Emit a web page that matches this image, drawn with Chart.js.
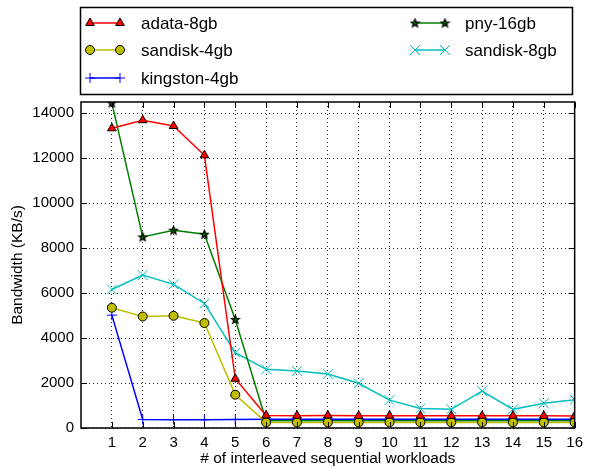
<!DOCTYPE html>
<html>
<head>
<meta charset="utf-8">
<script src="https://cdn.jsdelivr.net/npm/chart.js@4/dist/chart.umd.min.js"></script>
<style>
  html, body { margin: 0; padding: 0; background: #fff; }
  #wrap { position: relative; width: 589px; height: 468px; }
</style>
</head>
<body>
<div id="wrap"><canvas id="bw"></canvas></div>
<script>
// workloads on the x axis
const workloads = [1, 2, 3, 4, 5, 6, 7, 8, 9, 10, 11, 12, 13, 14, 15, 16];
const yTicks = [0, 2000, 4000, 6000, 8000, 10000, 12000, 14000];

// bandwidth in KB/s
const adata8 = [13330, 13690, 13430, 12130, 2190, 560, 550, 560, 540, 550, 540, 540, 540, 540, 540, 530];
const sandisk4 = [5350, 4960, 4990, 4670, 1480, 250, 250, 250, 250, 250, 250, 250, 250, 250, 250, 250];
const kingston4 = [5020, 380, 370, 370, 380, 390, 390, 390, 390, 390, 390, 390, 390, 390, 390, 390];
const pny16 = [14460, 8500, 8800, 8620, 4830, 320, 320, 320, 320, 320, 320, 320, 320, 320, 320, 320];
const sandisk8 = [6160, 6800, 6390, 5540, 3350, 2610, 2530, 2400, 1990, 1240, 870, 830, 1640, 830, 1100, 1260];

const FONT = '"Liberation Sans", Arial, Helvetica, sans-serif';

// filled star marker (Chart.js 'star' is an asterisk)
function makeStar(fill) {
    const c = document.createElement('canvas');
    c.width = 11; c.height = 11;
    const g = c.getContext('2d');
    g.beginPath();
    for (let i = 0; i < 10; i++) {
        const r = i % 2 === 0 ? 4.3 : 1.9;
        const a = -Math.PI / 2 + i * Math.PI / 5;
        const px = 5.5 + r * Math.cos(a), py = 5.8 + r * Math.sin(a);
        if (i === 0) g.moveTo(px, py); else g.lineTo(px, py);
    }
    g.closePath();
    g.fillStyle = fill;
    g.fill();
    g.lineWidth = 1.2;
    g.strokeStyle = '#000';
    g.stroke();
    return c;
}
const starImg = makeStar('#005a00');

const pts = arr => arr.map((v, i) => ({ x: workloads[i], y: v }));

const series = [
    { label: 'adata-8gb', data: adata8, color: '#ff0000', style: 'triangle', fill: '#ff0000', edge: '#000', r: 5 },
    { label: 'sandisk-4gb', data: sandisk4, color: '#bfbf00', style: 'circle', fill: '#bfbf00', edge: '#000', r: 4.5 },
    { label: 'kingston-4gb', data: kingston4, color: '#0000ff', style: 'cross', fill: '#0000ff', edge: '#0000ff', r: 5 },
    { label: 'pny-16gb', data: pny16, color: '#008000', style: starImg, fill: '#008000', edge: '#000', r: 5 },
    { label: 'sandisk-8gb', data: sandisk8, color: '#00bfbf', style: 'crossRot', fill: '#00bfbf', edge: '#00bfbf', r: 7 }
];

const frame = {
    id: 'frame',
    afterDraw(chart) {
        const { ctx, chartArea: a, scales } = chart;
        ctx.save();
        ctx.strokeStyle = '#000';
        ctx.lineWidth = 1;
        // inward ticks
        ctx.beginPath();
        workloads.forEach(v => {
            const x = Math.round(scales.x.getPixelForValue(v)) + 0.5;
            ctx.moveTo(x, a.bottom); ctx.lineTo(x, a.bottom - 6);
            ctx.moveTo(x, a.top); ctx.lineTo(x, a.top + 6);
        });
        yTicks.forEach(v => {
            const y = Math.round(scales.y.getPixelForValue(v)) + 0.5;
            ctx.moveTo(a.left, y); ctx.lineTo(a.left + 6, y);
            ctx.moveTo(a.right, y); ctx.lineTo(a.right - 6, y);
        });
        ctx.stroke();
        ctx.lineWidth = 1.5;
        ctx.strokeRect(a.left, a.top, a.right - a.left, a.bottom - a.top);

        // legend box
        ctx.lineWidth = 1.5;
        ctx.strokeRect(80.5, 7.5, 492, 87);
        const rows = [23, 50, 78];
        const cols = [{ x0: 90, x1: 120, tx: 141 }, { x0: 415, x1: 445, tx: 465 }];
        const place = [[0, 0], [0, 1], [0, 2], [1, 0], [1, 1]];
        ctx.font = '17px ' + FONT;
        ctx.textBaseline = 'middle';
        ctx.textAlign = 'left';
        series.forEach((s, i) => {
            const c = cols[place[i][0]], y = rows[place[i][1]];
            ctx.strokeStyle = s.color;
            ctx.lineWidth = 1.5;
            ctx.beginPath(); ctx.moveTo(c.x0, y); ctx.lineTo(c.x1, y); ctx.stroke();
            [c.x0, c.x1].forEach(px => {
                ctx.fillStyle = s.fill;
                ctx.strokeStyle = s.edge;
                ctx.lineWidth = 1;
                Chart.helpers.drawPoint(ctx, { pointStyle: s.style, radius: s.r, borderWidth: 1, rotation: 0 }, px, y);
            });
            ctx.fillStyle = '#000';
            ctx.fillText(s.label, c.tx, y + 1);
        });
        ctx.restore();
    }
};

new Chart(document.getElementById('bw'), {
    type: 'line',
    data: {
        datasets: series.map(s => ({
            label: s.label,
            data: pts(s.data),
            borderColor: s.color,
            backgroundColor: s.fill,
            borderWidth: 1.5,
            pointStyle: s.style,
            pointRadius: s.r,
            pointBorderColor: s.edge,
            pointBackgroundColor: s.fill,
            pointBorderWidth: 1,
            tension: 0,
            clip: 0
        }))
    },
    options: {
        responsive: true,
        maintainAspectRatio: false,
        animation: false,
        layout: { padding: { top: 102, right: 10, left: 0, bottom: 0 } },
        plugins: { legend: { display: false }, tooltip: { enabled: false } },
        scales: {
            x: {
                type: 'linear', min: 0, max: 16,
                afterBuildTicks: sc => { sc.ticks = workloads.map(v => ({ value: v })); },
                afterFit: sc => { sc.height = 40; },
                border: { display: false, dash: [1, 3] },
                grid: { color: '#222', drawTicks: false, lineWidth: 1 },
                ticks: { color: '#000', font: { family: FONT, size: 15 }, padding: 6, maxRotation: 0, autoSkip: false, callback: v => String(v) },
                title: { display: true, text: '# of interleaved sequential workloads', color: '#000', font: { family: FONT, size: 15.5 }, padding: { top: 0, bottom: 0 } }
            },
            y: {
                min: 0, max: 14500,
                afterBuildTicks: sc => { sc.ticks = yTicks.map(v => ({ value: v })); },
                afterFit: sc => { sc.width = 81; },
                border: { display: false, dash: [1, 3] },
                grid: { color: '#222', drawTicks: false, lineWidth: 1 },
                ticks: { color: '#000', font: { family: FONT, size: 15 }, padding: 7, callback: v => String(v) },
                title: { display: true, text: 'Bandwidth (KB/s)', color: '#000', font: { family: FONT, size: 15.5 }, padding: { top: 8, bottom: 4 } }
            }
        }
    },
    plugins: [frame]
});
</script>
</body>
</html>
